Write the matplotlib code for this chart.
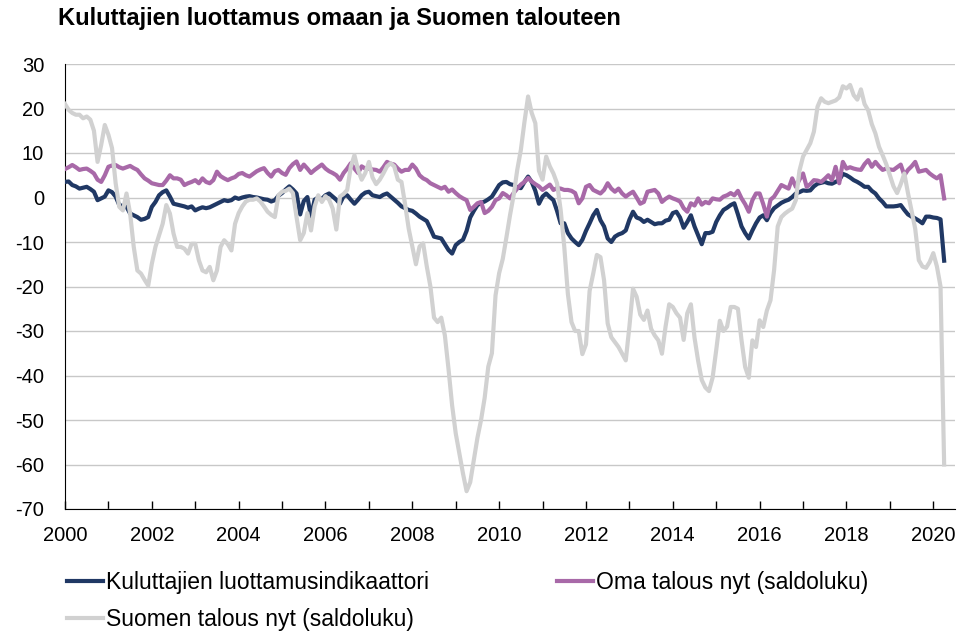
import numpy as np
from matplotlib import pyplot as plt

plt.rcParams['font.family'] = ['Liberation Sans', 'DejaVu Sans']
plt.rcParams['axes.unicode_minus'] = False

# monthly values, Jan 2000 - Apr 2020
luottamus = [
    3.5, 3.6, 2.8, 2.5, 2.0, 2.2, 2.4, 1.9, 1.3, -0.6, -0.2, 0.2,
    1.6, 1.2, 0.2, -1.7, -1.9, -2.1, -3.6, -4.0, -4.4, -5.0, -4.8, -4.4,
    -2.1, -1.0, 0.5, 1.2, 1.6, 0.2, -1.4, -1.6, -1.8, -2.0, -2.3, -2.0,
    -2.9, -2.5, -2.2, -2.4, -2.2, -1.8, -1.4, -1.0, -0.6, -0.8, -0.6, 0.0,
    -0.3, 0.0, 0.2, 0.3, 0.1, 0.0, -0.2, -0.4, -0.5, -0.9, -0.6, 0.4,
    1.0, 1.8, 2.5, 1.8, 0.9, -3.8, -0.8, 0.1, -4.3, -0.5, 0.0, -0.3,
    0.5, 0.9, 0.2, -0.5, -1.4, 0.3, 0.5, -0.5, -1.4, -0.5, 0.5, 1.1,
    1.3, 0.5, 0.3, 0.1, 0.6, 0.9, 0.2, -0.5, -1.2, -2.0, -2.4, -2.8,
    -3.0, -3.6, -4.3, -4.8, -5.3, -7.0, -8.8, -9.0, -9.2, -10.5, -11.8, -12.6,
    -10.7, -10.0, -9.5, -7.5, -4.5, -3.0, -1.7, -1.2, -0.9, -0.4, 0.2, 1.5,
    2.8, 3.4, 3.5, 3.0, 2.8, 2.3, 2.1, 3.5, 4.7, 3.5, 1.5, -1.4,
    0.2, 0.9, 0.1, -0.6, -3.0, -5.8, -5.8, -8.0, -9.2, -10.0, -10.7, -9.5,
    -7.5, -5.8, -4.0, -2.8, -5.1, -6.5, -9.2, -10.0, -8.8, -8.3, -8.0, -7.4,
    -5.0, -3.2, -4.5, -4.8, -5.5, -5.0, -5.5, -6.0, -5.8, -5.8, -5.2, -5.0,
    -3.5, -3.2, -4.5, -6.8, -5.5, -4.0, -6.5, -8.5, -10.5, -8.0, -8.0, -7.7,
    -5.5, -4.0, -2.8, -2.3, -1.7, -1.3, -3.8, -6.5, -8.0, -9.2, -7.4, -5.8,
    -4.5, -4.0, -5.1, -3.5, -2.4, -1.8, -1.2, -0.8, -0.5, 0.1, 0.9, 1.2,
    1.6, 1.5, 1.6, 2.5, 3.1, 3.3, 3.5, 3.2, 3.1, 3.5, 3.9, 5.3,
    5.0, 4.5, 3.9, 3.5, 3.0, 2.4, 2.4, 1.5, 0.9, -0.2, -1.0, -2.0,
    -2.0, -2.0, -1.9, -1.7, -2.8, -3.8, -4.3, -4.7, -5.2, -5.8, -4.3, -4.3,
    -4.5, -4.6, -4.9, -14.2,
]

oma_talous = [
    6.4, 6.8, 7.3, 6.8, 6.2, 6.4, 6.5, 6.0, 5.4, 4.0, 3.5, 5.0,
    6.9, 7.2, 7.3, 6.8, 6.5, 6.8, 7.1, 6.6, 6.2, 5.2, 4.3, 3.8,
    3.2, 3.0, 2.8, 2.8, 3.8, 5.0, 4.3, 4.3, 4.0, 2.8, 3.2, 3.5,
    3.9, 3.2, 4.3, 3.5, 3.2, 3.9, 5.8, 4.8, 4.3, 3.9, 4.3, 4.6,
    5.3, 5.5, 5.0, 4.7, 5.3, 5.9, 6.3, 6.6, 5.5, 4.7, 5.9, 6.2,
    5.5, 5.1, 6.6, 7.5, 8.1, 6.2, 7.4, 6.5, 5.5, 6.2, 6.8, 7.4,
    6.5, 5.9, 5.5, 5.0, 4.0, 5.5, 6.5, 7.7, 6.5, 5.5, 7.0, 6.5,
    6.5, 6.3, 6.2, 5.8, 6.8, 8.0, 7.6, 7.4, 6.5, 5.8, 6.2, 6.2,
    7.4, 6.5, 5.0, 4.3, 3.9, 3.2, 2.8, 2.4, 2.0, 2.4, 1.3, 1.8,
    1.0, 0.3, -0.2, -0.6, -2.8, -2.1, -1.3, -1.0, -3.5, -3.0, -2.1, -0.6,
    -0.2, 1.0, 0.5, -0.2, 1.0, 2.0, 2.9, 3.5, 4.4, 3.6, 3.0, 2.5,
    1.7, 2.3, 2.9, 1.7, 2.1, 2.0, 1.7, 1.7, 1.5, 1.0, -1.3, -0.2,
    2.4, 2.8, 1.7, 1.3, 0.9, 1.7, 3.2, 2.0, 1.3, 2.0, 0.9, 0.2,
    0.8, 1.3, 0.0, -1.4, -1.0, 1.3, 1.5, 1.7, 0.9, -1.0, -0.3, 0.2,
    -0.2, -0.5, -0.9, -2.4, -3.2, -1.3, -1.8, -0.2, -1.6, -1.0, -1.3, -0.2,
    -0.4, -0.5, 0.2, 0.5, 1.0, 0.5, 1.5, -0.2, -1.5, -3.2, -0.6, 0.9,
    0.9, -1.5, -4.3, -0.5, 0.2, 1.5, 2.8, 2.4, 2.0, 4.3, 2.4, 4.0,
    5.4, 2.4, 3.0, 3.9, 3.8, 3.5, 4.2, 5.0, 3.9, 6.9, 3.2, 8.0,
    6.5, 6.8, 6.5, 6.3, 6.2, 7.5, 8.4, 6.9, 8.0, 7.0, 6.2, 6.5,
    6.3, 6.2, 6.8, 7.4, 5.0, 6.2, 7.0, 8.0, 5.8, 6.0, 6.2, 5.4,
    4.8, 4.3, 5.0, -0.2,
]

suomen_talous = [
    21.0, 19.7, 19.0, 18.6, 18.6, 17.8, 18.2, 17.5, 15.0, 8.0, 11.8, 16.3,
    14.1, 11.1, 3.2, -2.1, -2.9, 0.9, -3.6, -11.1, -16.4, -17.1, -18.5, -19.8,
    -14.9, -11.1, -8.5, -5.9, -1.7, -3.6, -8.1, -11.1, -11.1, -11.5, -12.6, -10.4,
    -10.4, -14.1, -16.4, -16.8, -15.6, -18.6, -16.4, -11.1, -9.6, -10.5, -11.9, -5.9,
    -3.5, -2.0, -0.9, -0.5, -0.5, -0.2, -0.9, -2.0, -3.2, -3.9, -4.4, 0.5,
    1.3, 1.5, 2.0, 1.0, -4.4, -9.6, -8.0, -3.5, -7.4, -2.0, 0.5, -1.0,
    0.3, -0.5, -2.5, -7.2, 0.2, 0.8, 1.7, 6.9, 9.5, 6.2, 4.0, 5.5,
    8.0, 4.5, 3.0, 4.0, 5.4, 7.0, 7.7, 7.0, 4.0, 3.5, -1.5, -7.0,
    -11.0, -15.0, -11.0, -10.3, -15.5, -20.0, -27.0, -28.0, -27.0, -31.0, -38.5, -46.7,
    -53.0, -57.5, -62.0, -66.0, -64.0, -59.0, -54.0, -50.0, -45.0, -38.0, -35.0, -22.0,
    -17.0, -13.8, -9.0, -4.0, 0.5, 6.2, 10.7, 17.0, 22.7, 19.0, 16.7, 6.0,
    4.0, 9.2, 7.0, 5.4, 3.2, -2.8, -11.1, -21.7, -28.0, -30.0, -30.0, -35.2,
    -33.0, -21.0, -17.1, -12.9, -13.4, -18.6, -28.3, -31.4, -32.5, -33.6, -35.1, -36.6,
    -29.0, -20.5, -22.3, -26.3, -27.5, -25.4, -29.5, -31.0, -32.1, -35.1, -29.0, -24.0,
    -24.6, -26.0, -27.0, -32.0, -26.0, -24.0, -31.5, -36.7, -41.0, -42.7, -43.5, -40.5,
    -34.3, -27.7, -30.0, -29.0, -24.6, -24.6, -25.0, -32.1, -38.1, -40.5, -32.1, -33.6,
    -27.6, -29.1, -25.4, -23.1, -16.3, -6.5, -4.4, -3.6, -3.0, -2.5, -0.6, 6.0,
    9.2, 10.7, 12.2, 14.8, 20.4, 22.3, 21.5, 21.2, 21.5, 21.8, 22.5, 25.0,
    24.5, 25.3, 23.0, 22.0, 24.3, 21.0, 19.6, 16.5, 14.4, 11.4, 9.5, 7.5,
    5.0, 2.5, 1.0, 3.0, 5.4, 1.0, -3.0, -7.0, -14.1, -15.5, -15.8, -14.5,
    -12.5, -15.5, -20.0, -60.0,
]

labels = ['Kuluttajien luottamusindikaattori', 'Oma talous nyt (saldoluku)',
          'Suomen talous nyt (saldoluku)']
colors = ['#203864', '#a869a8', '#d1d1d1']

years = np.arange(2000, 2021)
t = 2000 + np.arange(len(luottamus)) / 12

fig = plt.figure(figsize=(9.7, 6.33), dpi=100)
ax = fig.add_axes([65 / 970, 1 - 509 / 633, 890 / 970, 445 / 633])

l1, = ax.plot(t, luottamus, color=colors[0], lw=3.0, zorder=3)
l2, = ax.plot(t, oma_talous, color=colors[1], lw=3.0, zorder=3)
l3, = ax.plot(t, suomen_talous, color=colors[2], lw=3.0, zorder=4)

ax.set_xlim(2000, 2020.5)
ax.set_ylim(-70, 30)
ax.set_yticks(np.arange(-70, 31, 10))
ax.set_xticks(years)
ax.set_xticklabels([str(y) if y % 2 == 0 else '' for y in years])
ax.grid(axis='y', color='#c8c8c8', lw=1.0, zorder=0)
ax.set_axisbelow(True)

for s in ['top', 'right']:
    ax.spines[s].set_visible(False)
ax.spines['left'].set_color('black')
ax.spines['bottom'].set_color('black')

ax.tick_params(axis='x', direction='in', length=6, width=1, pad=12, labelsize=14.5)
ax.tick_params(axis='y', length=0, pad=15, labelsize=14.5)

fig.text(58 / 970, 1 - 18 / 633, 'Kuluttajien luottamus omaan ja Suomen talouteen',
         fontsize=17, fontweight='bold', va='center', ha='left')

fig.legend([l1, l3, l2], [labels[0], labels[2], labels[1]], ncol=2,
           loc='upper left', bbox_to_anchor=(58 / 970, 1 - 562 / 633),
           frameon=False, fontsize=16.5, handlelength=1.55, handletextpad=0.15,
           columnspacing=5.6, labelspacing=0.6, borderaxespad=0)

fig.savefig('out.png', dpi=100)
